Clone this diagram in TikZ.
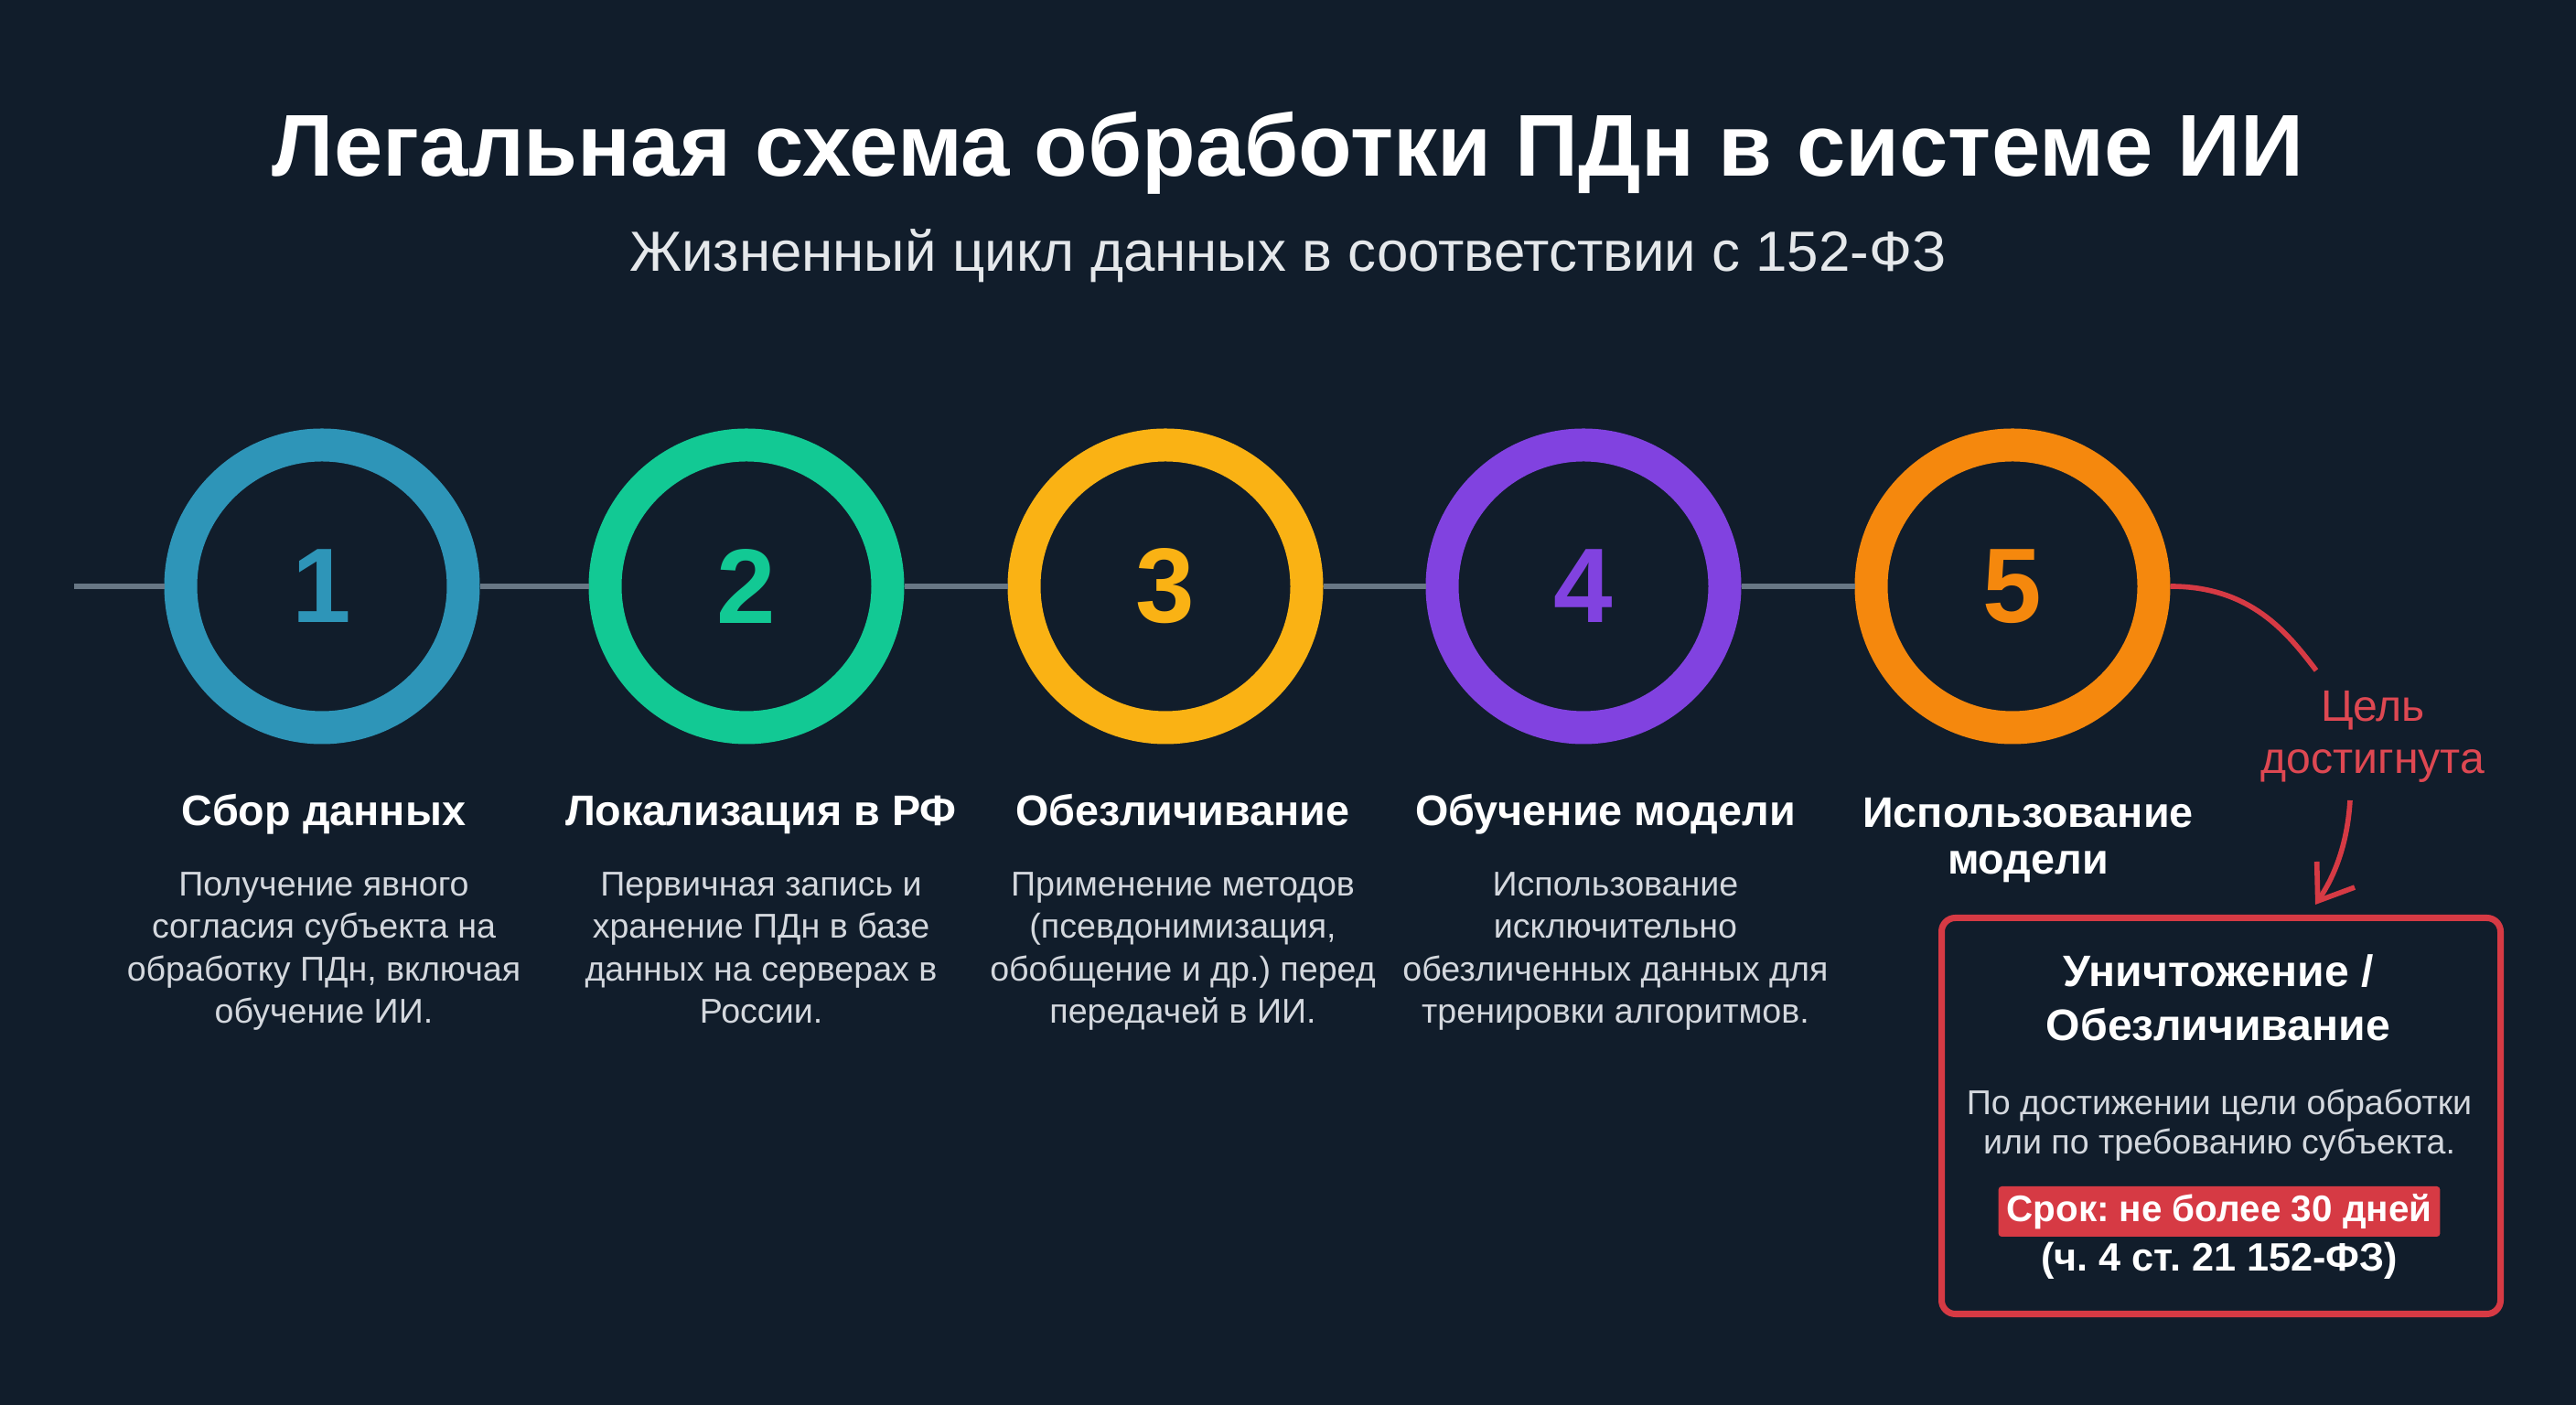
\documentclass[tikz,border=0pt]{standalone}
\usepackage{fontspec}
\setmainfont{Liberation Sans}
\usetikzlibrary{positioning, arrows.meta, calc}

\definecolor{navy}{RGB}{17,29,43}
\definecolor{trackgray}{RGB}{104,119,133}
\definecolor{descgray}{RGB}{212,216,222}
\definecolor{stepblue}{RGB}{46,149,184}
\definecolor{stepgreen}{RGB}{18,201,148}
\definecolor{stepamber}{RGB}{250,178,20}
\definecolor{steppurple}{RGB}{129,66,224}
\definecolor{steporange}{RGB}{245,136,13}
\definecolor{alertred}{RGB}{214,58,68}
\definecolor{goalred}{RGB}{222,72,82}
\newcommand{\fsz}[2]{\fontsize{#1}{#2}\selectfont}

\begin{document}
\frenchspacing
\begin{tikzpicture}[
    ring/.style={circle, draw, line width=0.36cm, minimum size=3.09cm, inner sep=0pt, font=\fsz{33}{36}\bfseries},
    steptitle/.style={anchor=base, inner sep=0pt, align=center, text=white, font=\fsz{13.3}{14.5}\bfseries},
    stepdesc/.style={anchor=north, inner sep=0pt, align=center, text=descgray, font=\fsz{10.7}{13.2}},
    track/.style={draw=trackgray, line width=1.5pt},
    alert/.style={draw=alertred, line width=1.6pt}]
    \fill[navy] (0,0) rectangle (28.16,15.36);
    \useasboundingbox (0,0) rectangle (28.16,15.36);

    \node[anchor=base, text=white, font=\fsz{27.3}{30}\bfseries] (head) at (14.08,13.43) {Легальная схема обработки ПДн в системе ИИ};
    \node[anchor=base, text=descgray!60!white, font=\fsz{17.6}{21}] (subhead) at (14.08,12.39) {Жизненный цикл данных в соответствии с 152-ФЗ};

    % the five stages
    \node[ring, draw=stepblue, text=stepblue] (c1) at (3.52,8.95) {1};
    \node[ring, draw=stepgreen, text=stepgreen] (c2) at (8.16,8.95) {2};
    \node[ring, draw=stepamber, text=stepamber] (c3) at (12.74,8.95) {3};
    \node[ring, draw=steppurple, text=steppurple] (c4) at (17.31,8.95) {4};
    \node[ring, draw=steporange, text=steporange] (c5) at (22.00,8.95) {5};

    \coordinate (lstart) at (0.81,8.95);
    \draw[track] (lstart) -- (c1) -- (c2) -- (c3) -- (c4) -- (c5);

    \node[steptitle] (t1) at (3.54,6.33) {Сбор данных};
    \node[steptitle] (t2) at (8.32,6.33) {Локализация в РФ};
    \node[steptitle] (t3) at (12.93,6.33) {Обезличивание};
    \node[steptitle] (t4) at (17.55,6.33) {Обучение модели};
    \node[steptitle, anchor=north] (t5) at (22.17,6.64) {Использование\\модели};

    \node[stepdesc] (d1) [below=0.5cm of t1.base] {Получение явного\\согласия субъекта на\\обработку ПДн, включая\\обучение ИИ.};
    \node[stepdesc] (d2) [below=0.5cm of t2.base] {Первичная запись и\\хранение ПДн в базе\\данных на серверах в\\России.};
    \node[stepdesc] (d3) [below=0.5cm of t3.base] {Применение методов\\(псевдонимизация,\\обобщение и др.) перед\\передачей в ИИ.};
    \node[stepdesc] (d4) [below=0.5cm of t4.base, xshift=0.11cm] {Использование\\исключительно\\обезличенных данных для\\тренировки алгоритмов.};

    % purpose reached
    \node[anchor=north, inner sep=0pt, align=center, text=goalred, font=\fsz{13.7}{16}] (goal) at (25.94,7.81) {Цель\\достигнута};
    \coordinate (bend) at (25.32,8.03);
    \draw[alert] (c5.east) .. controls (24.6,8.95) and (25.0,8.45) .. (bend);

    \node[alert, line width=2pt, rounded corners=0.15cm, minimum width=6.11cm, minimum height=4.33cm] (fate) at (24.28,3.16) {};
    \coordinate (drop) at (25.69,6.61);
    \coordinate (hit) at (25.31,5.47);
    \draw[alert, -{Straight Barb[length=3.5mm, width=5mm]}] (drop) .. controls (25.66,6.1) and (25.5,5.75) .. (hit);

    \node[anchor=north, inner sep=0pt, align=center, text=white, font=\fsz{13.7}{16.7}\bfseries] (fatehead) at (24.25,4.93) {Уничтожение /\\Обезличивание};
    \node[stepdesc, font=\fsz{10.7}{12.3}] (fatedesc) at (24.26,3.46) {По достижении цели обработки\\или по требованию субъекта.};
    \node[fill=alertred, rounded corners=1pt, inner xsep=2.5pt, inner ysep=0pt, minimum height=0.55cm, text=white, font=\fsz{11.5}{13}\bfseries] (term) at (24.26,2.115) {Срок: не более 30 дней};
    \node[anchor=base, inner sep=0pt, text=white, font=\fsz{12.3}{14}\bfseries] (law) at (24.26,1.46) {(ч. 4 ст. 21 152-ФЗ)};
\end{tikzpicture}
\end{document}
